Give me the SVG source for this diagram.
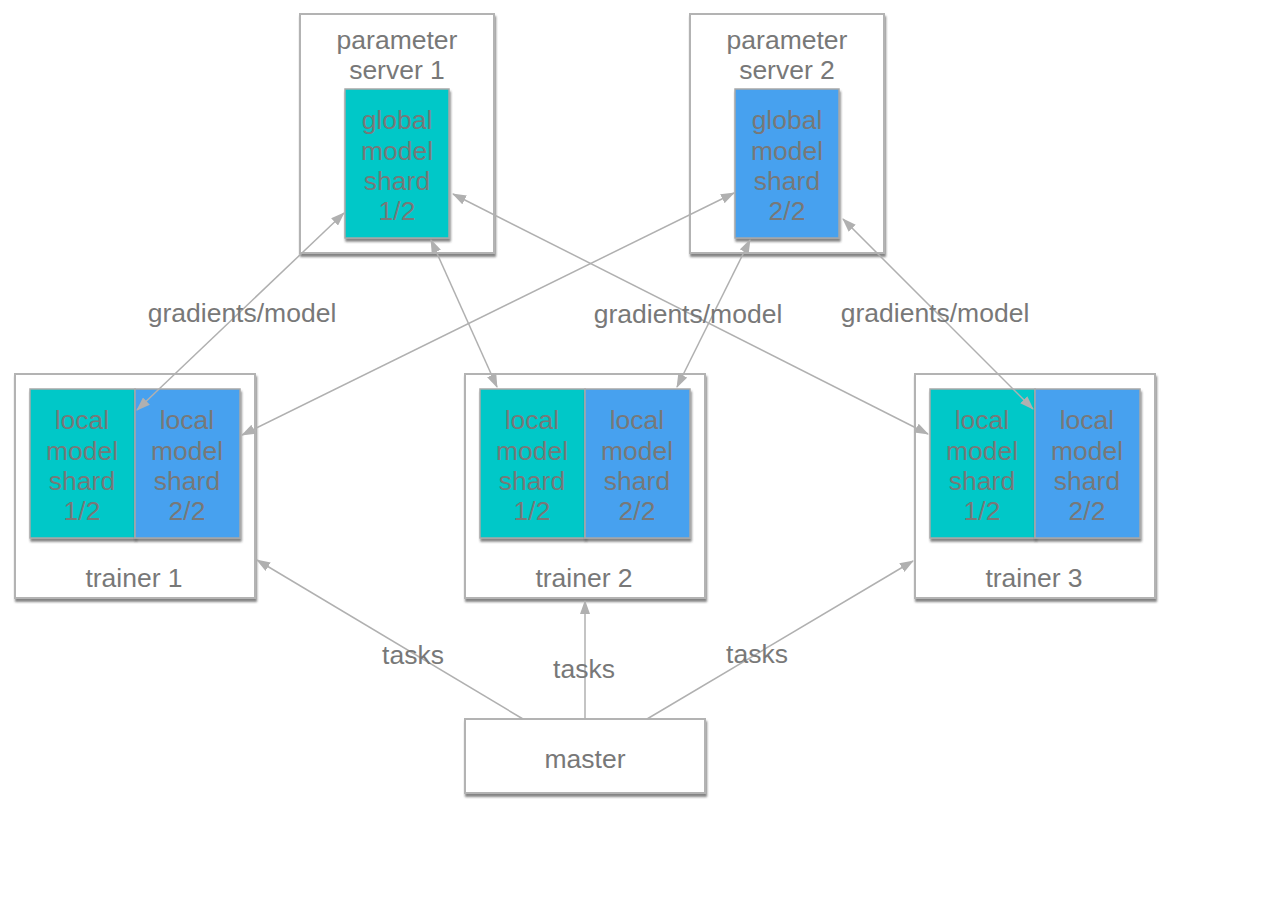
<svg xmlns="http://www.w3.org/2000/svg" width="1274" height="914" viewBox="0 0 1274 914">
  <defs>
    <style>
      .box { fill: #ffffff; stroke: #b3b3b3; stroke-width: 2; filter: url(#shadow); }
      .teal { fill: #00c8c8; stroke: #a8a8a8; stroke-width: 1.5; filter: url(#shadow); }
      .blue { fill: #46a1ef; stroke: #a8a8a8; stroke-width: 1.5; filter: url(#shadow); }
      text { font-family: "Liberation Sans", Arial, sans-serif; font-size: 26.5px; fill: #787878; text-anchor: middle; }
      .link { stroke: #b0b0b0; stroke-width: 1.5; fill: none; }
    </style>
    <filter id="shadow" x="-10%" y="-10%" width="130%" height="130%">
      <feDropShadow dx="1" dy="3" stdDeviation="1.3" flood-color="#333333" flood-opacity="0.6"/>
    </filter>
    <marker id="arrow" viewBox="0 0 14 10" refX="13" refY="5" markerWidth="14" markerHeight="10" markerUnits="userSpaceOnUse" orient="auto-start-reverse">
      <path d="M0,0 L14,5 L0,10 Z" fill="#b0b0b0"/>
    </marker>
  </defs>

  <!-- parameter servers -->
  <g id="ps1">
    <rect class="box" x="300" y="14" width="194" height="239"/>
    <text x="397" y="49">parameter</text>
    <text x="397" y="79">server 1</text>
    <rect class="teal" x="345" y="89" width="104" height="149"/>
    <text x="397" y="129">global</text>
    <text x="397" y="160">model</text>
    <text x="397" y="190">shard</text>
    <text x="397" y="220">1/2</text>
  </g>
  <g id="ps2">
    <rect class="box" x="690" y="14" width="194" height="239"/>
    <text x="787" y="49">parameter</text>
    <text x="787" y="79">server 2</text>
    <rect class="blue" x="735" y="89" width="104" height="149"/>
    <text x="787" y="129">global</text>
    <text x="787" y="160">model</text>
    <text x="787" y="190">shard</text>
    <text x="787" y="220">2/2</text>
  </g>

  <!-- trainers -->
  <g id="trainer1">
    <rect class="box" x="15" y="374" width="240" height="224"/>
    <rect class="teal" x="30" y="389" width="105" height="149"/>
    <rect class="blue" x="135" y="389" width="105" height="149"/>
    <text x="82" y="429">local</text>
    <text x="82" y="460">model</text>
    <text x="82" y="490">shard</text>
    <text x="82" y="520">1/2</text>
    <text x="187" y="429">local</text>
    <text x="187" y="460">model</text>
    <text x="187" y="490">shard</text>
    <text x="187" y="520">2/2</text>
    <text x="134" y="587">trainer 1</text>
  </g>
  <g id="trainer2">
    <rect class="box" x="465" y="374" width="240" height="224"/>
    <rect class="teal" x="480" y="389" width="105" height="149"/>
    <rect class="blue" x="585" y="389" width="105" height="149"/>
    <text x="532" y="429">local</text>
    <text x="532" y="460">model</text>
    <text x="532" y="490">shard</text>
    <text x="532" y="520">1/2</text>
    <text x="637" y="429">local</text>
    <text x="637" y="460">model</text>
    <text x="637" y="490">shard</text>
    <text x="637" y="520">2/2</text>
    <text x="584" y="587">trainer 2</text>
  </g>
  <g id="trainer3">
    <rect class="box" x="915" y="374" width="240" height="224"/>
    <rect class="teal" x="930" y="389" width="105" height="149"/>
    <rect class="blue" x="1035" y="389" width="105" height="149"/>
    <text x="982" y="429">local</text>
    <text x="982" y="460">model</text>
    <text x="982" y="490">shard</text>
    <text x="982" y="520">1/2</text>
    <text x="1087" y="429">local</text>
    <text x="1087" y="460">model</text>
    <text x="1087" y="490">shard</text>
    <text x="1087" y="520">2/2</text>
    <text x="1034" y="587">trainer 3</text>
  </g>

  <!-- master -->
  <g id="master">
    <rect class="box" x="465" y="719" width="240" height="74"/>
    <text x="585" y="768">master</text>
  </g>

  <!-- connectors -->
  <g id="connectors">
    <line class="link" x1="344" y1="213" x2="137" y2="410" marker-start="url(#arrow)" marker-end="url(#arrow)"/>
    <line class="link" x1="453" y1="194" x2="928" y2="434" marker-start="url(#arrow)" marker-end="url(#arrow)"/>
    <line class="link" x1="431" y1="240" x2="497" y2="387" marker-start="url(#arrow)" marker-end="url(#arrow)"/>
    <line class="link" x1="734" y1="193" x2="242" y2="435" marker-start="url(#arrow)" marker-end="url(#arrow)"/>
    <line class="link" x1="750" y1="240" x2="677" y2="387" marker-start="url(#arrow)" marker-end="url(#arrow)"/>
    <line class="link" x1="843" y1="219" x2="1033" y2="409" marker-start="url(#arrow)" marker-end="url(#arrow)"/>
    <line class="link" x1="523" y1="719" x2="257" y2="560" marker-end="url(#arrow)"/>
    <line class="link" x1="585" y1="719" x2="585" y2="601" marker-end="url(#arrow)"/>
    <line class="link" x1="647" y1="719" x2="913" y2="561" marker-end="url(#arrow)"/>
    <text x="242" y="322">gradients/model</text>
    <text x="688" y="323">gradients/model</text>
    <text x="935" y="322">gradients/model</text>
    <text x="413" y="664">tasks</text>
    <text x="584" y="678">tasks</text>
    <text x="757" y="663">tasks</text>
  </g>
</svg>
